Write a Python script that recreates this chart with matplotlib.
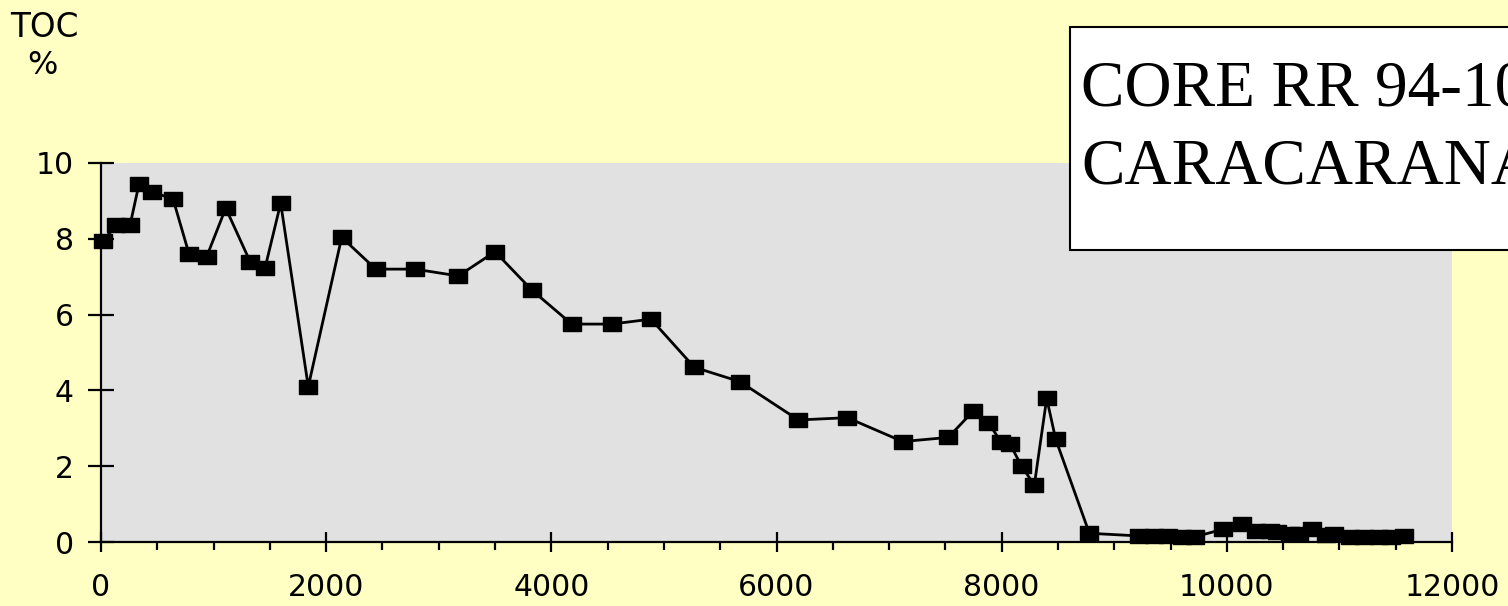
import matplotlib
matplotlib.use("Agg")
import matplotlib.pyplot as plt
from matplotlib.path import Path
from matplotlib.patches import Rectangle
from matplotlib.ticker import MultipleLocator

# Age (years BP) and total organic carbon (%)
age = [20, 133, 258, 338, 450, 640, 782, 939, 1108, 1324, 1457, 1596, 1841,
       2138, 2440, 2789, 3174, 3500, 3826, 4181, 4536, 4885, 5270, 5676,
       6194, 6629, 7121, 7526, 7749, 7882, 7992, 8074, 8178, 8290, 8400,
       8480, 8779, 9220, 9350, 9480, 9600, 9720, 9970, 10135, 10260, 10380,
       10450, 10560, 10640, 10757, 10880, 10950, 11090, 11220, 11350, 11460,
       11574]
toc = [7.94, 8.36, 8.36, 9.45, 9.24, 9.05, 7.6, 7.53, 8.81, 7.4, 7.23, 8.94,
       4.1, 8.04, 7.2, 7.2, 7.02, 7.66, 6.65, 5.75, 5.75, 5.88, 4.61, 4.23,
       3.22, 3.28, 2.65, 2.76, 3.46, 3.15, 2.65, 2.58, 2.0, 1.5, 3.79,
       2.71, 0.23, 0.16, 0.16, 0.16, 0.13, 0.14, 0.34, 0.47, 0.28, 0.28,
       0.27, 0.2, 0.2, 0.34, 0.18, 0.2, 0.12, 0.12, 0.12, 0.14, 0.17]

x_ticks = [0, 2000, 4000, 6000, 8000, 10000, 12000]
y_ticks = [0, 2, 4, 6, 8, 10]

title_lines = ["CORE RR 94-10", "CARACARANA"]

fig = plt.figure(figsize=(15.08, 6.06), dpi=100, facecolor="#FFFFC4")
ax = fig.add_axes([101 / 1508, 64 / 606, 1351 / 1508, 379 / 606])
ax.set_facecolor("#E1E1E1")

# wide, flat square marker
rect_marker = Path([(-1, -0.74), (1, -0.74), (1, 0.74), (-1, 0.74), (-1, -0.74)],
                   [Path.MOVETO, Path.LINETO, Path.LINETO, Path.LINETO, Path.CLOSEPOLY])

ax.plot(age, toc, color="black", linewidth=2.0, marker=rect_marker,
        markersize=13.5, markerfacecolor="black", markeredgecolor="black",
        clip_on=False, zorder=3)

ax.set_xlim(0, 12000)
ax.set_ylim(0, 10)
ax.set_xticks(x_ticks)
ax.set_yticks(y_ticks)
ax.xaxis.set_minor_locator(MultipleLocator(500))

for side in ("top", "right"):
    ax.spines[side].set_visible(False)
for side in ("left", "bottom"):
    ax.spines[side].set_linewidth(1.6)
    ax.spines[side].set_color("black")

ax.tick_params(axis="x", which="major", direction="inout", length=14,
               width=1.6, pad=15, labelsize=21.5)
ax.tick_params(axis="x", which="minor", direction="out", length=6, width=1.6)
ax.tick_params(axis="y", which="major", direction="inout", length=19,
               width=1.6, pad=10, labelsize=21.5)
for lab in ax.get_xticklabels() + ax.get_yticklabels():
    lab.set_fontfamily("DejaVu Sans")

fig.text(10 / 1508, 1 - 37 / 606, "TOC", fontsize=23.5, family="DejaVu Sans",
         ha="left", va="baseline")
fig.text(42 / 1508, 1 - 74 / 606, "%", fontsize=23, family="DejaVu Sans",
         ha="center", va="baseline")

# title box, running off the right edge of the figure
box = Rectangle((1070 / 1508, 1 - 250 / 606), 500 / 1508, 223 / 606,
                transform=fig.transFigure, facecolor="white",
                edgecolor="black", linewidth=1.5, zorder=5)
fig.patches.append(box)
fig.text(1081 / 1508, 1 - 106 / 606, title_lines[0], fontsize=47,
         family="Liberation Serif", ha="left", va="baseline", zorder=6)
fig.text(1081 / 1508, 1 - 183 / 606, title_lines[1], fontsize=47,
         family="Liberation Serif", ha="left", va="baseline", zorder=6)

fig.savefig("out.png", dpi=100, facecolor=fig.get_facecolor())
